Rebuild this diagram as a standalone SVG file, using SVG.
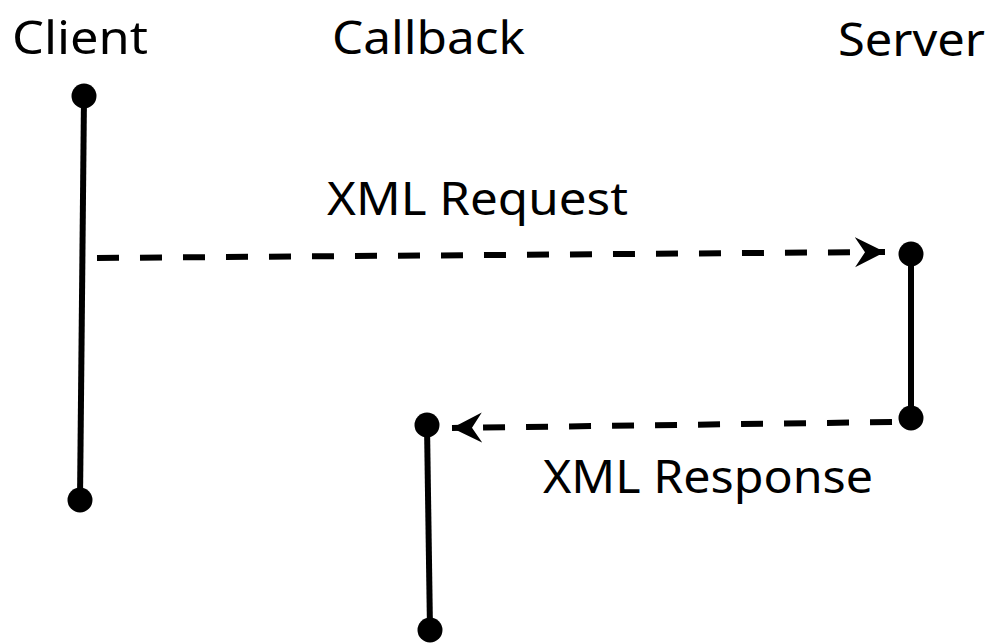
<svg xmlns="http://www.w3.org/2000/svg" width="992" height="643" viewBox="0 0 992 643">
<defs>
<style>
.lbl{font-family:"Noto Sans","Open Sans","DejaVu Sans",sans-serif;font-size:46px;fill:#000}
.life{stroke:#000;stroke-width:6;fill:none}
.dot{fill:#000}
.msg{stroke:#000;stroke-width:6;fill:none;stroke-dasharray:22 21}
</style>
<marker id="ah" markerUnits="userSpaceOnUse" markerWidth="34" markerHeight="34" viewBox="0 0 34 34" refX="30" refY="17" orient="auto">
<path d="M0,2 L30,17 L0,32 L10,17 Z" fill="#000"/>
</marker>
</defs>
<rect width="992" height="643" fill="#fff"/>
<g id="client">
<text class="lbl" x="12" y="54" textLength="136" lengthAdjust="spacingAndGlyphs">Client</text>
<line class="life" x1="84" y1="96" x2="80" y2="500"/>
<circle class="dot" cx="84" cy="96" r="12.5"/>
<circle class="dot" cx="80" cy="500" r="12.5"/>
</g>
<g id="callback">
<text class="lbl" x="332" y="54" textLength="193" lengthAdjust="spacingAndGlyphs">Callback</text>
<line class="life" x1="427" y1="425" x2="430" y2="630"/>
<circle class="dot" cx="427" cy="425" r="12.5"/>
<circle class="dot" cx="430" cy="630" r="12.5"/>
</g>
<g id="server">
<text class="lbl" x="838" y="56" textLength="147" lengthAdjust="spacingAndGlyphs">Server</text>
<line class="life" x1="911" y1="254" x2="911" y2="418"/>
<circle class="dot" cx="911" cy="254" r="12.5"/>
<circle class="dot" cx="911" cy="418" r="12.5"/>
</g>
<g id="connectors">
<line class="msg" x1="97" y1="258" x2="885" y2="252" marker-end="url(#ah)"/>
<line class="msg" x1="892" y1="422" x2="452" y2="428" marker-end="url(#ah)"/>
<text class="lbl" x="327" y="215" textLength="301" lengthAdjust="spacingAndGlyphs">XML Request</text>
<text class="lbl" x="543" y="493" textLength="330" lengthAdjust="spacingAndGlyphs">XML Response</text>
</g>
</svg>
